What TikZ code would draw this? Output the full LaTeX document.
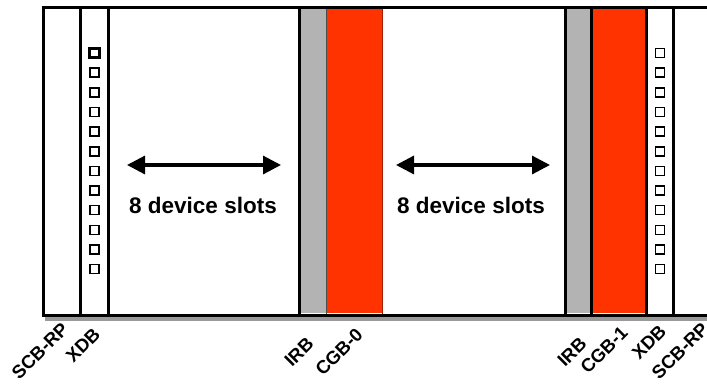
\documentclass[tikz,border=0pt]{standalone}
\usepackage{fontspec}
\setmainfont{Liberation Sans}
\usetikzlibrary{arrows.meta}
\definecolor{boardred}{HTML}{FF3300}
\definecolor{boardgray}{HTML}{B3B3B3}
\definecolor{shadowgray}{HTML}{999999}
\definecolor{rededge}{HTML}{A02000}
\tikzset{
  wall/.style={line width=3pt, black},
  thinwall/.style={line width=1pt},
  led/.style={draw=black, line width=1.5pt, fill=white, minimum size=9pt, inner sep=0pt},
  ledon/.style={led, line width=3pt, minimum size=9.5pt},
  slotarrow/.style={line width=3.2pt, {Triangle[length=18pt,width=18pt]}-{Triangle[length=18pt,width=18pt]}},
  slottext/.style={font=\bfseries\fontsize{22.5}{26}\selectfont, inner sep=0pt, anchor=base},
  boardlabel/.style={font=\bfseries\fontsize{18.5}{22}\selectfont, inner sep=0pt, rotate=45}
}
\begin{document}
\begin{tikzpicture}[x=1pt, y=-1pt]
  \useasboundingbox (0,0) rectangle (707,383);

  % shadow under the chassis floor
  \draw[shadowgray, line width=4pt] (45,319) -- (707,319);

  % interface / crossbar boards
  \fill[boardgray] (300,8) rectangle (326,313);
  \fill[boardred]  (326,8) rectangle (382,313);
  \fill[boardgray] (565,8) rectangle (592,313);
  \fill[boardred]  (592,8) rectangle (647,313);
  \draw[thinwall, black!70] (326,8) -- (326,314);
  \draw[thinwall, rededge]  (382,8) -- (382,314);

  % chassis frame
  \draw[wall] (707,7.5) -- (43.5,7.5) -- (43.5,315) -- (707,315);
  \foreach \x in {80.5,108.5,299.5,565,591.5,646.5,673.5}
    \draw[wall] (\x,7.5) -- (\x,315);

  % status LEDs on both XDB boards
  \node[ledon] (ledL0) at (94.5,53) {};
  \foreach \k in {1,...,11}
    \node[led] (ledL\k) at (94.5,{53+19.65*\k}) {};
  \foreach \k in {0,...,11}
    \node[led] (ledR\k) at (660,{53+19.65*\k}) {};

  % device slot spans
  \coordinate (aL1) at (127,165);
  \coordinate (aL2) at (281,165);
  \coordinate (aR1) at (396,165);
  \coordinate (aR2) at (550,165);
  \draw[slotarrow] (aL1) -- (aL2);
  \draw[slotarrow] (aR1) -- (aR2);
  \node[slottext] (slotsL) at (203,213) {8 device slots};
  \node[slottext] (slotsR) at (471,213) {8 device slots};

  % board names
  \node[boardlabel] (lbScbL) at (40,351) {SCB-RP};
  \node[boardlabel] (lbXdbL) at (83,345) {XDB};
  \node[boardlabel] (lbIrbM) at (299,352) {IRB};
  \node[boardlabel] (lbCgb0) at (339,352) {CGB-0};
  \node[boardlabel] (lbIrbR) at (572,352) {IRB};
  \node[boardlabel] (lbCgb1) at (604,350) {CGB-1};
  \node[boardlabel] (lbXdbR) at (649,342) {XDB};
  \node[boardlabel] (lbScbR) at (680,351) {SCB-RP};
\end{tikzpicture}
\end{document}
